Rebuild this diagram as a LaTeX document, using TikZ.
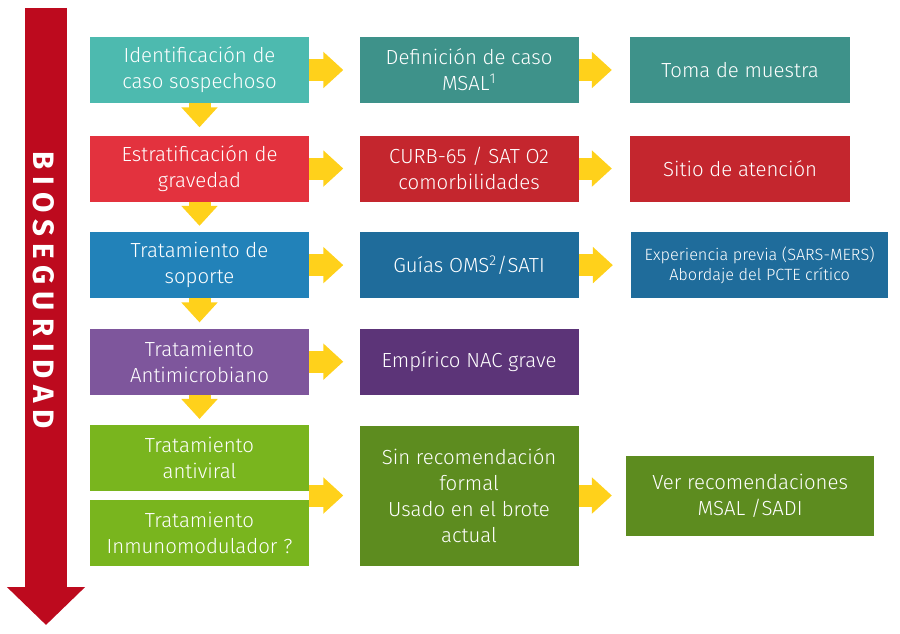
\documentclass[tikz,border=0pt]{standalone}
\usepackage{fontspec}
\setmainfont{Fira Sans Light}
\newfontfamily\bioFont[LetterSpace=24]{Fira Sans}
\usetikzlibrary{positioning, calc, arrows.meta}
\definecolor{tealA}{RGB}{77, 186, 175}
\definecolor{tealB}{RGB}{62, 146, 138}
\definecolor{redA}{RGB}{227, 50, 62}
\definecolor{redB}{RGB}{196, 38, 46}
\definecolor{blueA}{RGB}{34, 130, 185}
\definecolor{blueB}{RGB}{31, 108, 155}
\definecolor{purpleA}{RGB}{126, 86, 156}
\definecolor{purpleB}{RGB}{92, 52, 120}
\definecolor{greenA}{RGB}{121, 181, 30}
\definecolor{greenB}{RGB}{93, 140, 31}
\definecolor{yellow1}{RGB}{255, 209, 27}
\definecolor{bioRed}{RGB}{189, 10, 30}

\begin{document}
\begin{tikzpicture}[
    box/.style={fill=#1, text=white, align=center, inner sep=2pt,
      minimum width=5.475cm, minimum height=1.65cm,
      font=\fontsize{14.5}{18.5}\selectfont},
    yarrow/.style={draw=yellow1, line width=0.55cm,
      -{Triangle[width=0.88cm, length=0.5cm]}},
    node distance=0.75cm and 1.25cm
  ]
  \useasboundingbox (0,0) rectangle (22.5,15.825);

  % Bioseguridad arrow
  \coordinate (bioTop) at (1.15,15.625);
  \coordinate (bioEnd) at (1.15,0.2);
  \draw[draw=bioRed, line width=1.05cm, -{Triangle[width=1.9cm, length=0.95cm]}] (bioTop) -- (bioEnd);
  \node[rotate=-90, text=white, font=\bioFont\bfseries\fontsize{21}{22}\selectfont] (bio) at (1.09,8.575) {BIOSEGURIDAD};

  % Left column
  \node[box=tealA] (ident) at (4.9875,14.075) {Identificación de\\caso sospechoso};
  \node[box=redA, below=0.8cm of ident] (estrat) {Estratificación de\\gravedad};
  \node[box=blueA, below=of estrat] (soporte) {Tratamiento de\\soporte};
  \node[box=purpleA, below=of soporte] (antimic) {Tratamiento\\Antimicrobiano};
  \node[box=greenA, below=of antimic] (antiviral) {Tratamiento\\antiviral};
  \node[box=greenA, below=0.2cm of antiviral] (inmuno) {Tratamiento\\Inmunomodulador ?};
  \coordinate (trat) at ($(antiviral.south east)!0.5!(inmuno.north east)$);

  % Middle column
  \node[box=tealB, right=of ident] (defcaso) {Definición de caso\\MSAL\textsuperscript{1}};
  \node[box=redB, right=of estrat] (curb) {CURB-65 / SAT O2\\comorbilidades};
  \node[box=blueB, right=of soporte] (guias) {Guías OMS\textsuperscript{2}/SATI};
  \node[box=purpleB, right=of antimic] (empirico) {Empírico NAC grave};
  \node[box=greenB, minimum height=3.5cm, right=of trat] (sinrec) {Sin recomendación\\formal\\Usado en el brote\\actual};

  % Right column
  \node[box=tealB, minimum width=5.5cm, right=1.275cm of defcaso] (toma) {Toma de muestra};
  \node[box=redB, minimum width=5.5cm, right=1.275cm of curb] (sitio) {Sitio de atención};
  \node[box=blueB, minimum width=6.425cm, right=1.3cm of guias,
    font=\fontsize{11.6}{14.5}\selectfont] (experiencia) {Experiencia previa (SARS-MERS)\\Abordaje del PCTE crítico};
  \node[box=greenB, minimum width=6.2cm, minimum height=2cm, right=1.175cm of sinrec] (verrec) {Ver recomendaciones\\MSAL /SADI};

  % Yellow arrows
  \draw[yarrow, shorten >=0.4cm] (ident) -- (defcaso);
  \draw[yarrow, shorten >=0.4cm] (estrat) -- (curb);
  \draw[yarrow, shorten >=0.4cm] (soporte) -- (guias);
  \draw[yarrow, shorten >=0.4cm] (antimic) -- (empirico);
  \draw[yarrow, shorten >=0.4cm] (trat) -- (sinrec.west);
  \draw[yarrow, shorten >=0.45cm] (defcaso) -- (toma);
  \draw[yarrow, shorten >=0.45cm] (curb) -- (sitio);
  \draw[yarrow, shorten >=0.45cm] (guias) -- (experiencia);
  \draw[yarrow, shorten >=0.35cm] (sinrec) -- (verrec);
  \draw[yarrow, shorten >=0.2cm] (ident) -- (estrat);
  \draw[yarrow, shorten >=0.15cm] (estrat) -- (soporte);
  \draw[yarrow, shorten >=0.15cm] (soporte) -- (antimic);
  \draw[yarrow, shorten >=0.15cm] (antimic) -- (antiviral);
\end{tikzpicture}
\end{document}
